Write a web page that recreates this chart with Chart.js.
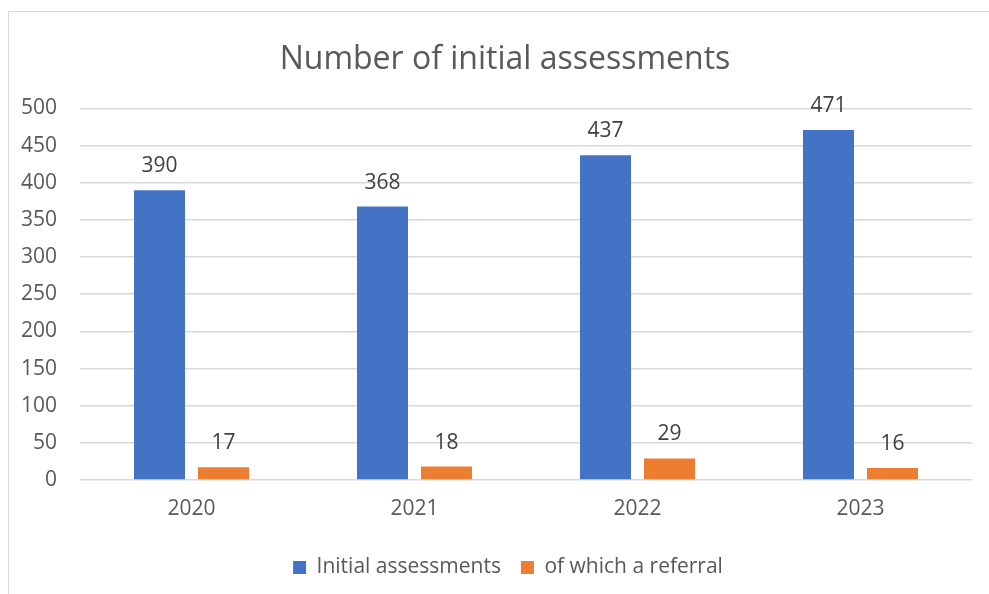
<!DOCTYPE html>
<html>
<head>
<meta charset="utf-8">
<title>Number of initial assessments</title>
<script src="https://cdn.jsdelivr.net/npm/chart.js@4.4.1/dist/chart.umd.min.js"></script>
<style>
    html, body { margin: 0; padding: 0; background: #fff; }
    #wrap { position: relative; width: 989px; height: 594px; }
    #frame {
        position: absolute; left: 8px; top: 11px; right: -2px; bottom: -2px;
        border: 1px solid #d9d9d9; pointer-events: none;
    }
</style>
</head>
<body>
<div id="wrap">
    <div id="frame"></div>
    <canvas id="chart"></canvas>
</div>
<script>
// ---------------- Data ----------------
const years = ["2020", "2021", "2022", "2023"];
const initialAssessments = [390, 368, 437, 471];
const referrals = [17, 18, 29, 16];

const FONT = "'Open Sans', 'Noto Sans', sans-serif";

// draw value labels above each bar
const valueLabels = {
    id: "valueLabels",
    afterDatasetsDraw(chart) {
        const ctx = chart.ctx;
        ctx.save();
        ctx.font = "21px " + FONT;
        ctx.fillStyle = "#404040";
        ctx.textAlign = "center";
        ctx.textBaseline = "alphabetic";
        chart.data.datasets.forEach((ds, i) => {
            chart.getDatasetMeta(i).data.forEach((bar, j) => {
                ctx.fillText(String(ds.data[j]), bar.x, bar.y - 18);
            });
        });
        ctx.restore();
    }
};

// title and legend sit a bit right of the canvas centre, like the whole chart box
const boxShift = {
    id: "boxShift",
    afterLayout(chart) {
        if (chart.titleBlock) {
            chart.titleBlock.left += 10;
            chart.titleBlock.right += 10;
        }
        if (chart.legend) {
            chart.legend.left += 13;
            chart.legend.right += 13;
        }
    }
};

new Chart(document.getElementById("chart"), {
    type: "bar",
    data: {
        labels: years,
        datasets: [
            { label: "Initial assessments", data: initialAssessments, backgroundColor: "#4472C4" },
            { label: "of which a referral", data: referrals, backgroundColor: "#ED7D31" }
        ]
    },
    options: {
        responsive: true,
        maintainAspectRatio: false,
        animation: false,
        categoryPercentage: 0.574,
        barPercentage: 0.797,
        layout: { padding: { left: 18, right: 17, top: 1, bottom: 6 } },
        plugins: {
            title: {
                display: true,
                text: "Number of initial assessments",
                color: "#595959",
                font: { family: FONT, size: 32, weight: "normal" },
                padding: { top: 40, bottom: 29 }
            },
            legend: {
                position: "bottom",
                labels: {
                    color: "#595959",
                    font: { family: FONT, size: 21 },
                    boxWidth: 13,
                    boxHeight: 13,
                    padding: 20
                }
            },
            tooltip: { enabled: false }
        },
        scales: {
            x: {
                grid: { display: false },
                border: { display: false },
                ticks: { color: "#595959", font: { family: FONT, size: 21 }, padding: 8 },
                afterFit(scale) { scale.height = 57; }
            },
            y: {
                min: 0,
                max: 500,
                ticks: { stepSize: 50, color: "#595959", font: { family: FONT, size: 21 }, padding: 23 },
                grid: { color: "#d9d9d9", lineWidth: 1.5, drawTicks: false },
                border: { display: false },
                afterFit(scale) { scale.width = 62; }
            }
        }
    },
    plugins: [valueLabels, boxShift]
});
</script>
</body>
</html>
